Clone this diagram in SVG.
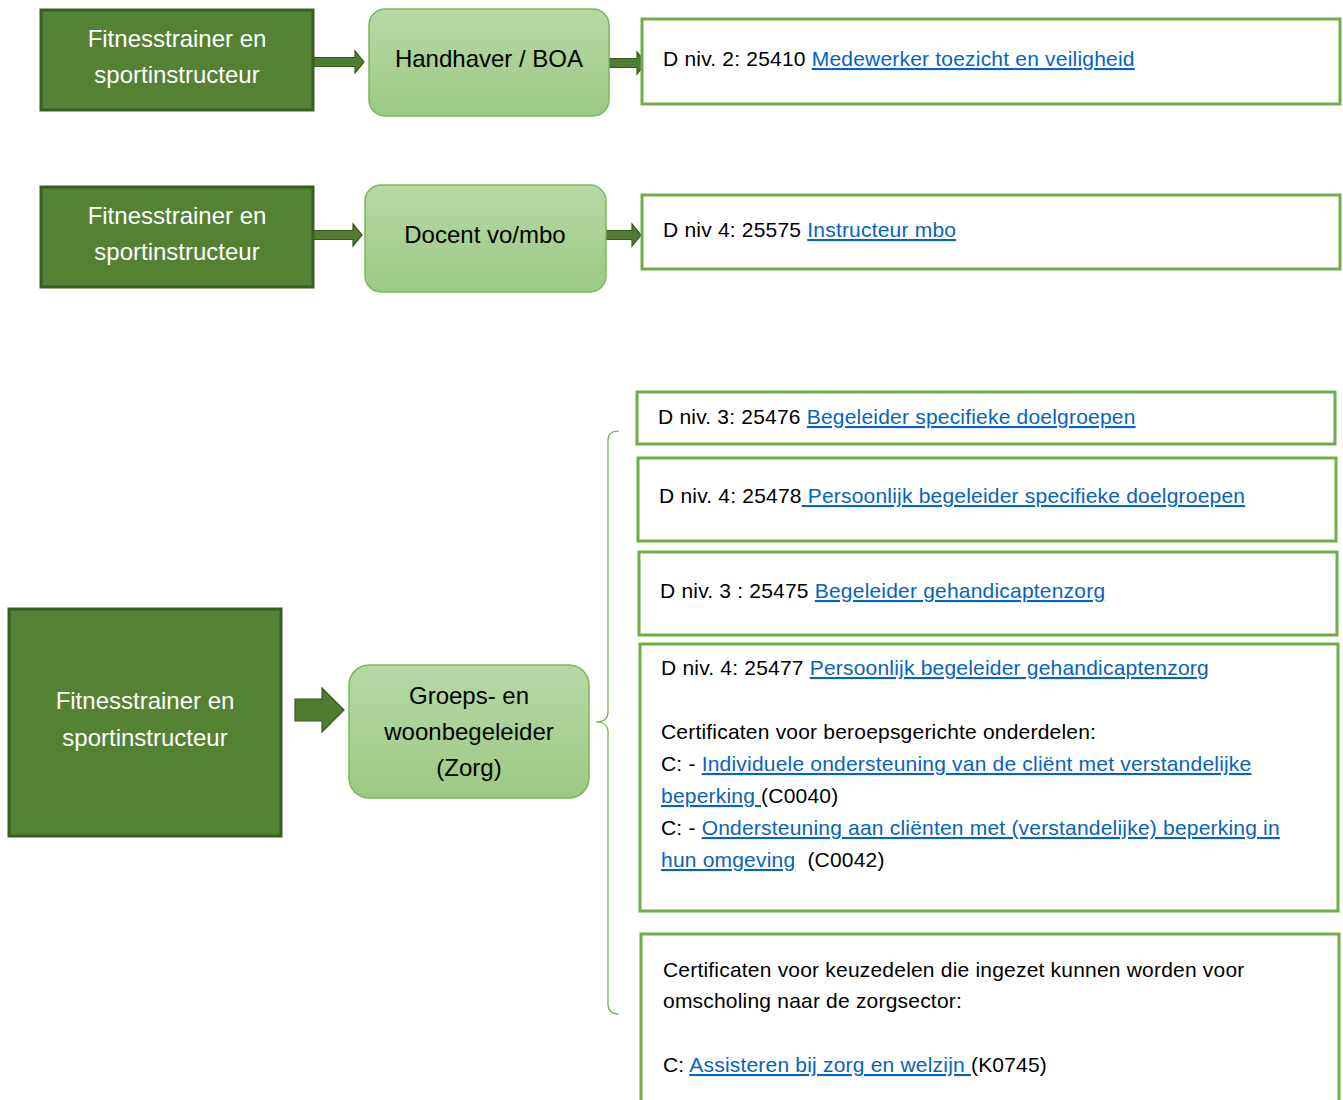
<svg xmlns="http://www.w3.org/2000/svg" width="1343" height="1100" viewBox="0 0 1343 1100">
<defs>
<linearGradient id="lg" x1="0" y1="0" x2="0" y2="1">
<stop offset="0" stop-color="#b6d8a6"/>
<stop offset="1" stop-color="#9bca83"/>
</linearGradient>
</defs>
<style>
.dark{fill:#548235;stroke:#3a5d24;stroke-width:3}
.light{fill:url(#lg);stroke:#7db75c;stroke-width:1.5}
.out{fill:#fff;stroke:#70ad47;stroke-width:3}
.arr{fill:#4f7d30;stroke:#385723;stroke-width:1.2}
.brace{fill:none;stroke:#70ad47;stroke-width:1.2}
.wt{font-family:"Liberation Sans",Arial,sans-serif;font-size:24px;fill:#fff;text-anchor:middle}
.bt{font-family:"Liberation Sans",Arial,sans-serif;font-size:24px;fill:#000;text-anchor:middle}
.t{font-family:"Liberation Sans",Arial,sans-serif;font-size:21px;letter-spacing:0.2px;fill:#000;white-space:pre}
.a{fill:#0563c1;text-decoration:underline}
</style>
<rect width="1343" height="1100" fill="#fff"/>

<g id="connectors">
<path class="arr" d="M313,57.5 H355 V51 L364,62 L355,73 V66.5 H313 Z"/>
<path class="arr" d="M609,58.5 H637 V52 L646,63 L637,74 V67.5 H609 Z"/>
<path class="arr" d="M313,230.5 H353 V224 L362,235 L353,246 V239.5 H313 Z"/>
<path class="arr" d="M606,230.5 H632 V224 L641,235 L632,246 V239.5 H606 Z"/>
<path class="arr" d="M295,699 H322 V688 L344,710 L322,732 V721 H295 Z"/>
<path class="brace" d="M619,431 Q608,431 608,440 V712 Q608,722 596,722 Q608,722 608,732 V1004 Q608,1014 619,1014"/>
</g>

<g id="n1"><rect class="dark" x="41" y="10" width="272" height="100"/>
<text class="wt" x="177" y="47">Fitnesstrainer en</text><text class="wt" x="177" y="83">sportinstructeur</text></g>
<g id="n2"><rect class="light" x="369" y="9" width="240" height="107" rx="16"/>
<text class="bt" x="489" y="67">Handhaver / BOA</text></g>
<g id="n3"><rect class="out" x="642" y="19" width="698" height="85"/>
<text class="t" x="663" y="66">D niv. 2: 25410 <tspan class="a">Medewerker toezicht en veiligheid</tspan></text></g>

<g id="n4"><rect class="dark" x="41" y="187" width="272" height="100"/>
<text class="wt" x="177" y="224">Fitnesstrainer en</text><text class="wt" x="177" y="260">sportinstructeur</text></g>
<g id="n5"><rect class="light" x="365" y="185" width="241" height="107" rx="16"/>
<text class="bt" x="485" y="243">Docent vo/mbo</text></g>
<g id="n6"><rect class="out" x="642" y="195" width="698" height="74"/>
<text class="t" x="663" y="237">D niv 4: 25575 <tspan class="a">Instructeur mbo</tspan></text></g>

<g id="n7"><rect class="dark" x="9" y="609" width="272" height="227"/>
<text class="wt" x="145" y="709">Fitnesstrainer en</text><text class="wt" x="145" y="746">sportinstructeur</text></g>
<g id="n8"><rect class="light" x="349" y="665" width="240" height="133" rx="20"/>
<text class="bt" x="469" y="704">Groeps- en</text><text class="bt" x="469" y="740">woonbegeleider</text><text class="bt" x="469" y="776">(Zorg)</text></g>

<g id="n9"><rect class="out" x="637" y="392" width="698" height="52"/>
<text class="t" x="658" y="424">D niv. 3: 25476 <tspan class="a">Begeleider specifieke doelgroepen</tspan></text></g>
<g id="n10"><rect class="out" x="638" y="458" width="698" height="83"/>
<text class="t" x="659" y="503">D niv. 4: 25478<tspan class="a"> Persoonlijk begeleider specifieke doelgroepen</tspan></text></g>
<g id="n11"><rect class="out" x="639" y="552" width="698" height="83"/>
<text class="t" x="660" y="598">D niv. 3 : 25475 <tspan class="a">Begeleider gehandicaptenzorg</tspan></text></g>
<g id="n12"><rect class="out" x="640" y="644" width="698" height="267"/>
<text class="t" x="661" y="675">D niv. 4: 25477 <tspan class="a">Persoonlijk begeleider gehandicaptenzorg</tspan></text>
<text class="t" x="661" y="739">Certificaten voor beroepsgerichte onderdelen:</text>
<text class="t" x="661" y="771">C: - <tspan class="a">Individuele ondersteuning van de cliënt met verstandelijke</tspan></text>
<text class="t" x="661" y="803"><tspan class="a">beperking </tspan>(C0040)</text>
<text class="t" x="661" y="835">C: - <tspan class="a">Ondersteuning aan cliënten met (verstandelijke) beperking in</tspan></text>
<text class="t" x="661" y="867"><tspan class="a">hun omgeving</tspan>  (C0042)</text></g>
<g id="n13"><rect class="out" x="641" y="934" width="698" height="180"/>
<text class="t" x="663" y="977">Certificaten voor keuzedelen die ingezet kunnen worden voor</text>
<text class="t" x="663" y="1008">omscholing naar de zorgsector:</text>
<text class="t" x="663" y="1072">C: <tspan class="a">Assisteren bij zorg en welzijn </tspan>(K0745)</text></g>
</svg>
